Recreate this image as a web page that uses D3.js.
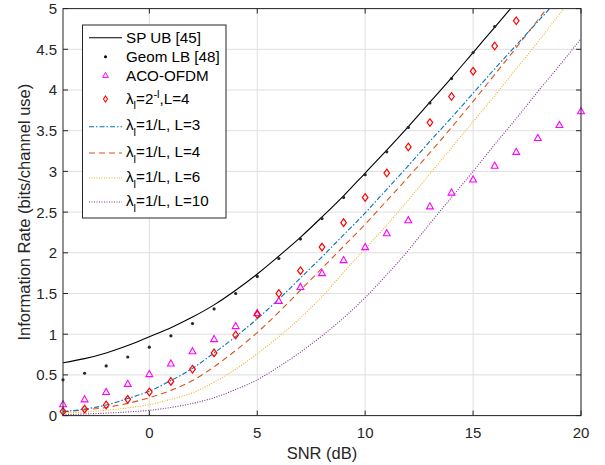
<!DOCTYPE html>
<html>
<head>
<meta charset="utf-8">
<script src="https://cdn.jsdelivr.net/npm/d3@7"></script>
<style>
  html, body { margin: 0; padding: 0; background: #fff; }
  svg { display: block; font-family: "Liberation Sans", Arial, sans-serif; }
</style>
</head>
<body>
<svg id="chart" width="605" height="465"></svg>
<script>
// SNR grid (dB)
const snr = [-4,-3,-2,-1,0,1,2,3,4,5,6,7,8,9,10,11,12,13,14,15,16,17,18,19,20];

// Sphere-packing upper bound (line), -4..17 dB
const spUB = [0.65,0.70,0.77,0.86,0.97,1.08,1.21,1.36,1.54,1.74,1.96,2.19,2.44,2.70,2.98,3.26,3.55,3.85,4.15,4.46,4.77,5.08];
// Geometric lower bound (dots), -4..16 dB
const geomLB = [0.44,0.52,0.61,0.72,0.84,0.98,1.13,1.31,1.50,1.71,1.93,2.17,2.42,2.68,2.96,3.24,3.54,3.84,4.14,4.46,4.78];
// ACO-OFDM (triangles), -4..20 dB
const acoOFDM = [0.14,0.20,0.29,0.39,0.51,0.64,0.79,0.94,1.10,1.26,1.41,1.58,1.75,1.91,2.07,2.24,2.40,2.57,2.74,2.90,3.07,3.24,3.41,3.57,3.74];
// lambda_l = 2^-l, L = 4 (diamonds), -4..17 dB
const lambdaPow4 = [0.05,0.08,0.13,0.20,0.29,0.42,0.57,0.77,0.99,1.24,1.50,1.78,2.07,2.37,2.68,2.98,3.30,3.60,3.92,4.23,4.54,4.85];
// lambda_l = 1/L curves, -4..20 dB
const uniL3  = [0.05,0.08,0.13,0.21,0.30,0.43,0.58,0.77,0.97,1.19,1.43,1.69,1.95,2.22,2.49,2.78,3.07,3.37,3.66,3.96,4.26,4.55,4.84,5.13,5.42];
const uniL4  = [0.045,0.07,0.10,0.15,0.22,0.31,0.43,0.60,0.80,1.02,1.27,1.54,1.81,2.08,2.35,2.64,2.93,3.23,3.54,3.86,4.19,4.52,4.86,5.20,5.54];
const uniL6  = [0.03,0.045,0.065,0.095,0.135,0.20,0.28,0.41,0.57,0.76,0.97,1.20,1.46,1.76,2.05,2.34,2.65,2.97,3.29,3.61,3.93,4.26,4.59,4.93,5.26];
const uniL10 = [0.01,0.02,0.03,0.045,0.065,0.10,0.15,0.22,0.32,0.44,0.60,0.78,0.98,1.20,1.45,1.73,2.03,2.36,2.68,3.00,3.33,3.65,3.98,4.30,4.63];

// Axis ticks
const xTicks = [0,5,10,15,20];
const yTicks = [0,0.5,1,1.5,2,2.5,3,3.5,4,4.5,5];

const svg = d3.select("#chart");
const pLeft = 63, pRight = 581, pTop = 8.6, pBottom = 415.6;
const x = d3.scaleLinear().domain([-4, 20]).range([pLeft, pRight]);
const y = d3.scaleLinear().domain([0, 5]).range([pBottom, pTop]);
const axisColor = "#262626";
const tickFont = 15, titleFont = 16.5, legendFont = 15.2;

// grid
const grid = svg.append("g").attr("stroke", "#dfdfdf").attr("stroke-width", 1);
xTicks.forEach(t => grid.append("line").attr("x1", x(t)).attr("x2", x(t)).attr("y1", pTop).attr("y2", pBottom));
yTicks.forEach(t => grid.append("line").attr("x1", pLeft).attr("x2", pRight).attr("y1", y(t)).attr("y2", y(t)));

svg.append("defs").append("clipPath").attr("id", "plotClip")
  .append("rect").attr("x", pLeft).attr("y", pTop).attr("width", pRight - pLeft).attr("height", pBottom - pTop);

const plot = svg.append("g").attr("clip-path", "url(#plotClip)");

const pairs = vals => vals.map((v, i) => [snr[i], v]);
const line = d3.line().x(d => x(d[0])).y(d => y(d[1])).curve(d3.curveMonotoneX);

const lineSeries = [
  { vals: uniL10, color: "#7E2F8E", dash: "1,1.5" },
  { vals: uniL6,  color: "#EDB120", dash: "1,1.5" },
  { vals: uniL4,  color: "#D95319", dash: "6,4" },
  { vals: uniL3,  color: "#0072BD", dash: "5,2,1.5,2" },
  { vals: spUB,   color: "#000000", dash: null }
];
lineSeries.forEach(s => {
  plot.append("path").attr("d", line(pairs(s.vals)))
    .attr("fill", "none").attr("stroke", s.color).attr("stroke-width", 1.1)
    .attr("stroke-dasharray", s.dash);
});

// marker shapes
function triPath(cx, cy, r) {
  return `M${cx},${cy - r}L${cx + r * 0.95},${cy + r * 0.7}L${cx - r * 0.95},${cy + r * 0.7}Z`;
}
function diaPath(cx, cy, w, h) {
  return `M${cx},${cy - h}L${cx + w},${cy}L${cx},${cy + h}L${cx - w},${cy}Z`;
}

const marks = svg.append("g");
pairs(geomLB).forEach(d => marks.append("circle").attr("cx", x(d[0])).attr("cy", y(d[1])).attr("r", 1.6).attr("fill", "#262626"));
pairs(acoOFDM).forEach(d => marks.append("path").attr("d", triPath(x(d[0]), y(d[1]), 3.6))
  .attr("fill", "none").attr("stroke", "#FF00FF").attr("stroke-width", 1.1));
pairs(lambdaPow4).forEach(d => marks.append("path").attr("d", diaPath(x(d[0]), y(d[1]), 2.8, 3.8))
  .attr("fill", "none").attr("stroke", "#FF0000").attr("stroke-width", 1.2));

// axes box
const axes = svg.append("g").attr("stroke", axisColor).attr("stroke-width", 1).attr("fill", "none");
axes.append("rect").attr("x", pLeft).attr("y", pTop).attr("width", pRight - pLeft).attr("height", pBottom - pTop);
xTicks.forEach(t => {
  axes.append("line").attr("x1", x(t)).attr("x2", x(t)).attr("y1", pBottom).attr("y2", pBottom - 5);
  axes.append("line").attr("x1", x(t)).attr("x2", x(t)).attr("y1", pTop).attr("y2", pTop + 5);
});
yTicks.forEach(t => {
  axes.append("line").attr("x1", pLeft).attr("x2", pLeft + 5).attr("y1", y(t)).attr("y2", y(t));
  axes.append("line").attr("x1", pRight).attr("x2", pRight - 5).attr("y1", y(t)).attr("y2", y(t));
});

// tick labels
const labels = svg.append("g").attr("fill", axisColor).attr("font-size", tickFont);
xTicks.forEach(t => labels.append("text").attr("x", x(t)).attr("y", 437.5).attr("text-anchor", "middle").text(t));
yTicks.forEach(t => labels.append("text").attr("x", 57).attr("y", y(t) + 5.4).attr("text-anchor", "end").text(t));

labels.append("text").attr("x", (pLeft + pRight) / 2).attr("y", 458.5).attr("font-size", titleFont)
  .attr("text-anchor", "middle").text("SNR (dB)");
labels.append("text").attr("transform", `translate(30,${(pTop + pBottom) / 2}) rotate(-90)`)
  .attr("font-size", titleFont).attr("text-anchor", "middle").text("Information Rate (bits/channel use)");

// legend
const lg = svg.append("g");
lg.append("rect").attr("x", 82.5).attr("y", 25).attr("width", 143.5).attr("height", 193)
  .attr("fill", "#fff").attr("stroke", axisColor).attr("stroke-width", 1);

const rowY = [37.7, 56.7, 75.3, 99, 126.7, 153, 178, 202];
const sx1 = 89, sx2 = 122, mx = 105.5, tx = 126;

function addText(yc, build) {
  const t = lg.append("text").attr("x", tx).attr("y", yc + 5.2).attr("font-size", legendFont).attr("fill", "#000");
  build(t);
}
// row 0: SP UB
lg.append("line").attr("x1", sx1).attr("x2", sx2).attr("y1", rowY[0]).attr("y2", rowY[0]).attr("stroke", "#000").attr("stroke-width", 1.1);
addText(rowY[0], t => t.text("SP UB [45]"));
// row 1: Geom LB
lg.append("circle").attr("cx", mx).attr("cy", rowY[1]).attr("r", 1.5).attr("fill", "#000");
addText(rowY[1], t => t.text("Geom LB [48]"));
// row 2: ACO-OFDM
lg.append("path").attr("d", triPath(mx, rowY[2], 3)).attr("fill", "none").attr("stroke", "#FF00FF").attr("stroke-width", 1);
addText(rowY[2], t => t.text("ACO-OFDM"));
// row 3: lambda_l = 2^-l, L = 4
lg.append("path").attr("d", diaPath(mx, rowY[3], 2, 3)).attr("fill", "none").attr("stroke", "#FF0000").attr("stroke-width", 1.1);
addText(rowY[3], t => {
  t.append("tspan").text("λ");
  t.append("tspan").attr("dy", 5).attr("font-size", 11).text("l");
  t.append("tspan").attr("dy", -5).text("=2");
  t.append("tspan").attr("dy", -6).attr("font-size", 11).text("-l");
  t.append("tspan").attr("dy", 6).text(",L=4");
});
// rows 4..7: lambda_l = 1/L
const uniLegend = [
  { L: 3,  color: "#0072BD", dash: "5,2,1.5,2" },
  { L: 4,  color: "#D95319", dash: "6,4" },
  { L: 6,  color: "#EDB120", dash: "1,1.5" },
  { L: 10, color: "#7E2F8E", dash: "1,1.5" }
];
uniLegend.forEach((e, i) => {
  const yc = rowY[4 + i];
  lg.append("line").attr("x1", sx1).attr("x2", sx2).attr("y1", yc).attr("y2", yc)
    .attr("stroke", e.color).attr("stroke-width", 1.1).attr("stroke-dasharray", e.dash);
  addText(yc - 1.5, t => {
    t.append("tspan").text("λ");
    t.append("tspan").attr("dy", 6).attr("font-size", 11).text("l");
    t.append("tspan").attr("dy", -6).text(`=1/L, L=${e.L}`);
  });
});
</script>
</body>
</html>
